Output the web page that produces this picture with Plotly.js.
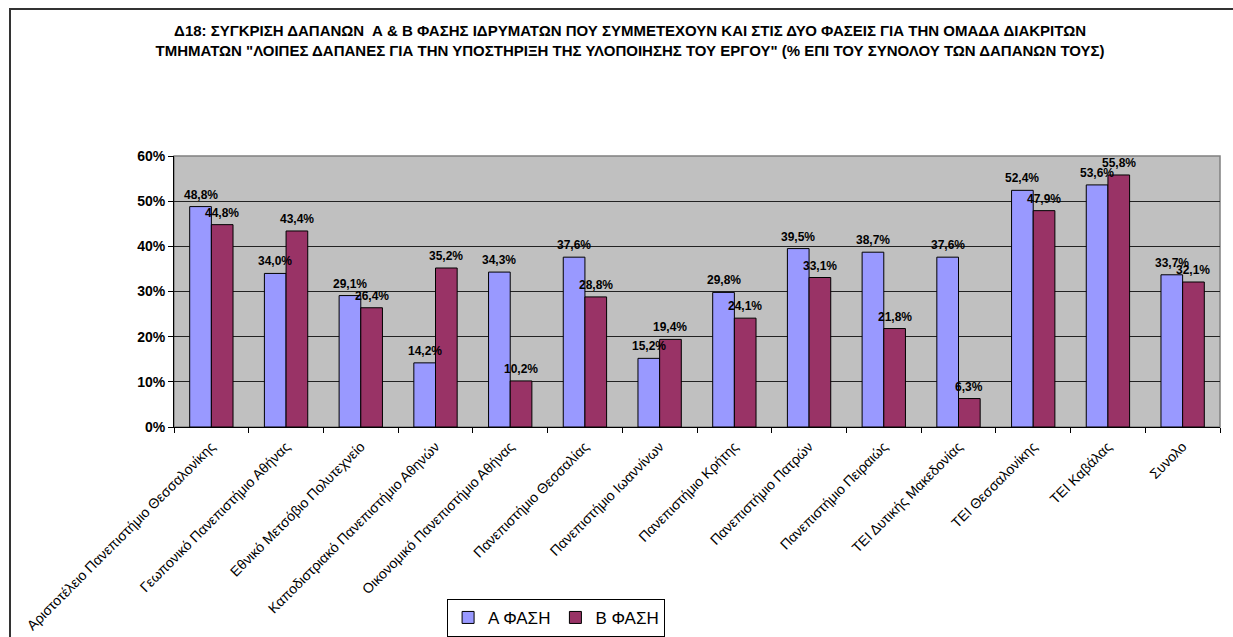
<!DOCTYPE html>
<html>
<head>
<meta charset="utf-8">
<script src="https://cdn.plot.ly/plotly-3.0.1.min.js"></script>
<style>
  html, body { margin: 0; padding: 0; background: #fff; }
  #chart { width: 1233px; height: 637px; position: absolute; left: 0; top: 0; }
  #frame { position: absolute; left: 9px; top: 8px; width: 1240px; height: 640px;
           border-left: 2px solid #333; border-top: 2px solid #333; pointer-events: none; }
</style>
</head>
<body>
<div id="chart"></div>
<div id="frame"></div>
<script>
const categories = [
  "Αριστοτέλειο Πανεπιστήμιο Θεσσαλονίκης",
  "Γεωπονικό Πανεπιστήμιο Αθήνας",
  "Εθνικό Μετσόβιο Πολυτεχνείο",
  "Καποδιστριακό Πανεπιστήμιο Αθηνών",
  "Οικονομικό Πανεπιστήμιο Αθήνας",
  "Πανεπιστήμιο Θεσσαλίας",
  "Πανεπιστήμιο Ιωαννίνων",
  "Πανεπιστήμιο Κρήτης",
  "Πανεπιστήμιο Πατρών",
  "Πανεπιστήμιο Πειραιώς",
  "ΤΕΙ Δυτικής Μακεδονίας",
  "ΤΕΙ Θεσσαλονίκης",
  "ΤΕΙ Καβάλας",
  "Συνολο"
];
const phaseA = [48.8, 34.0, 29.1, 14.2, 34.3, 37.6, 15.2, 29.8, 39.5, 38.7, 37.6, 52.4, 53.6, 33.7];
const phaseB = [44.8, 43.4, 26.4, 35.2, 10.2, 28.8, 19.4, 24.1, 33.1, 21.8, 6.3, 47.9, 55.8, 32.1];
const seriesNames = ["Α ΦΑΣΗ", "Β ΦΑΣΗ"];
const yTicks = [0, 10, 20, 30, 40, 50, 60];
const titleText = "Δ18: ΣΥΓΚΡΙΣΗ ΔΑΠΑΝΩΝ  Α & Β ΦΑΣΗΣ ΙΔΡΥΜΑΤΩΝ ΠΟΥ ΣΥΜΜΕΤΕΧΟΥΝ ΚΑΙ ΣΤΙΣ ΔΥΟ ΦΑΣΕΙΣ ΓΙΑ ΤΗΝ ΟΜΑΔΑ ΔΙΑΚΡΙΤΩΝ<br>ΤΜΗΜΑΤΩΝ \"ΛΟΙΠΕΣ ΔΑΠΑΝΕΣ ΓΙΑ ΤΗΝ ΥΠΟΣΤΗΡΙΞΗ ΤΗΣ ΥΛΟΠΟΙΗΣΗΣ ΤΟΥ ΕΡΓΟΥ\" (% ΕΠΙ ΤΟΥ ΣΥΝΟΛΟΥ ΤΩΝ ΔΑΠΑΝΩΝ ΤΟΥΣ)";

const fmt = v => v.toFixed(1).replace('.', ',') + '%';
const font = "Arial, 'Liberation Sans', sans-serif";

const plotW = 1233 - 174 - 13;
const barOffset = plotW / categories.length * (1 - 0.42) / 4;

function barTrace(values, name, color) {
  return {
    type: 'bar', x: categories, y: values, name: name,
    marker: { color: color, line: { color: '#000', width: 1 } },
    hoverinfo: 'skip'
  };
}

const data = [
  barTrace(phaseA, seriesNames[0], '#9999FF'),
  barTrace(phaseB, seriesNames[1], '#993366')
];

const annotations = [];
[[phaseA, -1], [phaseB, 1]].forEach(([vals, side]) => {
  vals.forEach((v, i) => {
    annotations.push({
      x: categories[i], y: v, xref: 'x', yref: 'y',
      text: fmt(v), showarrow: false, xanchor: 'center', yanchor: 'bottom',
      xshift: side * barOffset, yshift: 3,
      font: { family: font, size: 12, color: '#000', weight: 'bold' }
    });
  });
});

const layout = {
  width: 1233, height: 637,
  margin: { l: 174, r: 13, t: 156, b: 210 },
  paper_bgcolor: '#fff',
  plot_bgcolor: '#C0C0C0',
  barmode: 'group', bargap: 0.42, bargroupgap: 0,
  title: {
    text: titleText, x: 0.511, xanchor: 'center', y: 0.943, yanchor: 'top',
    font: { family: font, size: 15, color: '#000', weight: 'bold' }
  },
  xaxis: {
    type: 'category', tickangle: -45, tickson: 'boundaries',
    ticks: 'outside', ticklen: 5, tickcolor: '#000',
    showline: true, linecolor: '#000', linewidth: 1,
    showgrid: false, automargin: false, ticklabelstandoff: 5,
    tickfont: { family: font, size: 14, color: '#000' }
  },
  yaxis: {
    range: [0, 60], tickvals: yTicks, ticktext: yTicks.map(v => v + '%'),
    ticks: 'outside', ticklen: 5, tickcolor: '#000',
    showline: true, linecolor: '#000', linewidth: 1,
    showgrid: true, gridcolor: '#222', gridwidth: 1,
    zeroline: false, automargin: false,
    tickfont: { family: font, size: 14, color: '#000', weight: 'bold' }
  },
  annotations: annotations,
  shapes: [{
    type: 'rect', xref: 'paper', yref: 'paper', x0: 0, x1: 1, y0: 0, y1: 1,
    line: { color: '#808080', width: 1.5 }, layer: 'below'
  }],
  showlegend: true,
  legend: {
    orientation: 'h', xref: 'container', yref: 'container',
    x: 0.451, xanchor: 'center', y: 0.03, yanchor: 'middle',
    bgcolor: '#fff', bordercolor: '#000', borderwidth: 1,
    font: { family: font, size: 17, color: '#000' },
    itemwidth: 30, tracegroupgap: 0
  }
};

Plotly.newPlot('chart', data, layout, { staticPlot: true, displayModeBar: false });
</script>
</body>
</html>
